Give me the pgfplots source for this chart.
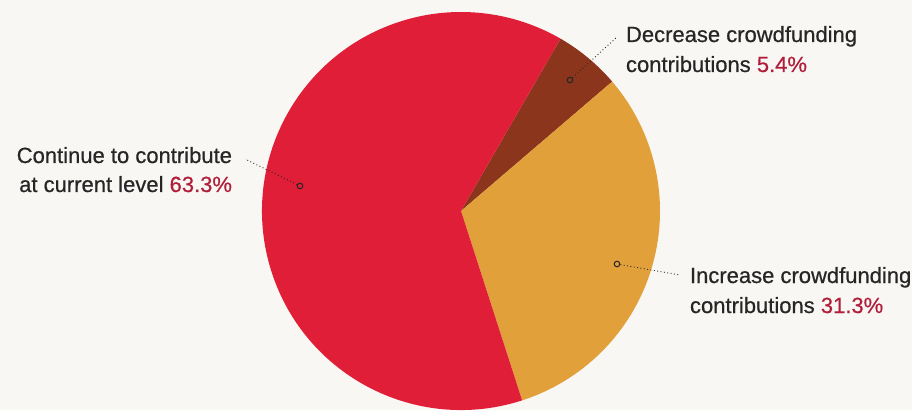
\documentclass[border=0pt]{standalone}
\usepackage{pgfplots}
\pgfplotsset{compat=1.18}
\usepackage{fontspec}
\setmainfont{Liberation Sans}[FakeBold=0.6]
\definecolor{bgc}{HTML}{F9F7F3}
\definecolor{redc}{HTML}{E01E37}
\definecolor{brownc}{HTML}{8B351D}
\definecolor{orangec}{HTML}{E2A03A}
\definecolor{pctc}{HTML}{B01E3A}
\definecolor{txtc}{HTML}{262626}
% shares (percent)
\def\vDec{5.4}
\def\vInc{31.3}
\def\vCon{63.3}
\def\startang{60}
\begin{document}
\begin{tikzpicture}
\fill[bgc] (0,0) rectangle (912pt,410pt);
\begin{axis}[at={(0,0)}, anchor=south west,
  width=912pt, height=410pt, scale only axis,
  xmin=-461, xmax=451, ymin=-199, ymax=211,
  hide axis, clip=false]
\pgfmathsetmacro{\aA}{\startang}
\pgfmathsetmacro{\aB}{\aA-\vDec*3.6}
\pgfmathsetmacro{\aC}{\aB-\vInc*3.6}
\pgfmathsetmacro{\dA}{-\vDec*3.6}
\pgfmathsetmacro{\dB}{-\vInc*3.6}
\pgfmathsetmacro{\dC}{-\vCon*3.6}
\fill[brownc] (axis cs:0,0) -- ++(\aA:199pt) arc[start angle=\aA, delta angle=\dA, radius=199pt] -- cycle;
\fill[orangec] (axis cs:0,0) -- ++(\aB:199pt) arc[start angle=\aB, delta angle=\dB, radius=199pt] -- cycle;
\fill[redc] (axis cs:0,0) -- ++(\aC:199pt) arc[start angle=\aC, delta angle=\dC, radius=199pt] -- cycle;
% leader lines
\addplot[txtc, line width=0.9pt, dash pattern=on 0.9pt off 2.5pt] coordinates {(-161,25) (-216,52)};
\addplot[txtc, line width=0.9pt, dash pattern=on 0.9pt off 2.5pt] coordinates {(109,131) (156,174)};
\addplot[txtc, line width=0.9pt, dash pattern=on 0.9pt off 2.5pt] coordinates {(156,-53) (219,-64)};
% markers
\addplot[only marks, mark=*, mark size=2.8pt, mark options={draw=txtc, fill=redc, line width=1pt}] coordinates {(-161,25)};
\addplot[only marks, mark=*, mark size=2.8pt, mark options={draw=txtc, fill=brownc, line width=1pt}] coordinates {(109,131)};
\addplot[only marks, mark=*, mark size=2.8pt, mark options={draw=txtc, fill=orangec, line width=1pt}] coordinates {(156,-53)};
% labels
\begin{scope}[every node/.style={inner sep=0pt, outer sep=0pt, text=txtc, font=\fontsize{22}{26}\selectfont}]
\node[anchor=base east] at (axis cs:-229,48) {Continue to contribute};
\node[anchor=base east] at (axis cs:-229,19) {at current level \textcolor{pctc}{63.3\%}};
\node[anchor=base west] at (axis cs:165,169) {Decrease crowdfunding};
\node[anchor=base west] at (axis cs:165,139) {contributions \textcolor{pctc}{5.4\%}};
\node[anchor=base west] at (axis cs:229,-72) {Increase crowdfunding};
\node[anchor=base west] at (axis cs:229,-102) {contributions \textcolor{pctc}{31.3\%}};
\end{scope}
\end{axis}
\pgfresetboundingbox
\path (0,0) rectangle (912pt,410pt);
\end{tikzpicture}
\end{document}
